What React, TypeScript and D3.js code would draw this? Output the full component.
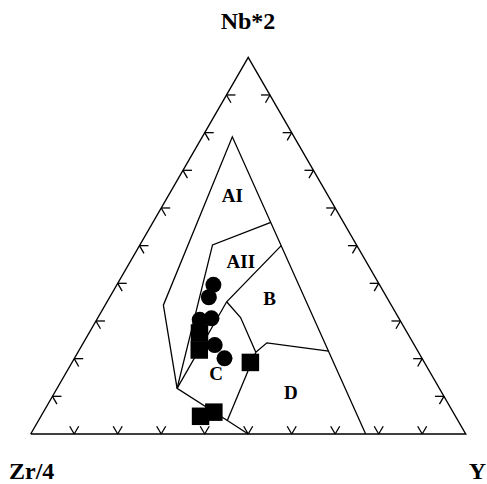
import React from 'react';
import * as d3 from 'd3';

// ternary points as [Zr/4, Nb*2, Y] in percent
const circleZr = [38.2, 40.9, 46.0, 43.1, 45.9, 45.4];
const circleNb = [39.6, 36.3, 30.3, 30.7, 23.6, 20.1];
const circleY = [22.2, 22.8, 23.7, 26.2, 30.5, 34.5];

const squareZr = [47.8, 50.1, 40.0, 58.6, 55.0];
const squareNb = [26.8, 22.3, 19.0, 4.7, 5.8];
const squareY = [25.4, 27.6, 41.0, 36.7, 39.2];

// field boundaries
const outerA = [[23, 0, 77], [14.2, 78.9, 6.9], [52.4, 34.2, 13.4], [60.3, 12.1, 27.6], [53, 3.6, 43.4], [50, 0, 50]];
const lineAI_AII = [[16.7, 56.2, 27.1], [33.1, 50.2, 16.7], [60.3, 12.1, 27.6]];
const lineAII_B = [[17.4, 50.0, 32.6], [37.4, 35.1, 27.5], [60.3, 12.1, 27.6]];
const lineB_C = [[37.4, 35.1, 27.5], [36.3, 30.9, 32.8], [37.4, 21.7, 40.9]];
const lineB_D = [[37.4, 21.7, 40.9], [33.6, 24.2, 42.2], [20.5, 22.0, 57.5]];
const lineC_D = [[37.4, 21.7, 40.9], [53, 3.6, 43.4]];
const boundaries = [outerA, lineAI_AII, lineAII_B, lineB_C, lineB_D, lineC_D];

const fieldNames = ['AI', 'AII', 'B', 'C', 'D'];
const fieldPos = [[22.8, 61.7, 15.5], [29.7, 44.0, 26.3], [28.0, 34.2, 37.8], [50.2, 14.3, 35.5], [35.6, 9.2, 55.2]];

const tickSteps = [10, 20, 30, 40, 50, 60, 70, 80, 90];

const S3 = Math.sqrt(3) / 2;

const App = () => {
  const width = 487;
  const height = 484;

  const x = d3.scaleLinear().domain([0, 1]).range([30.7, 465.7]);
  const y = d3.scaleLinear().domain([0, S3]).range([434, 57.3]);

  // [zr, nb, yy] -> screen
  const proj = (p: number[]): [number, number] => {
    const s = p[0] + p[1] + p[2];
    const b = p[1] / s;
    const c = p[2] / s;
    return [x(c + b / 2), y(b * S3)];
  };

  const line = d3.line<number[]>().x(p => proj(p)[0]).y(p => proj(p)[1]);

  const corners = [[100, 0, 0], [0, 0, 100], [0, 100, 0]];
  const tri = line(corners.concat([corners[0]])) as string;

  const tl = 9;
  const ticks: { x1: number; y1: number; x2: number; y2: number }[] = [];
  const seg = (p: [number, number], ang: number) => {
    const r = (ang * Math.PI) / 180;
    ticks.push({ x1: p[0], y1: p[1], x2: p[0] + tl * Math.cos(r), y2: p[1] - tl * Math.sin(r) });
  };
  tickSteps.forEach(t => {
    // bottom edge
    const pb = proj([100 - t, 0, t]);
    seg(pb, 60);
    seg(pb, 120);
    // left edge
    const pl = proj([100 - t, t, 0]);
    seg(pl, 0);
    seg(pl, -60);
    // right edge
    const pr = proj([0, t, 100 - t]);
    seg(pr, 180);
    seg(pr, 240);
  });

  const sq = 17.5;
  const font = "'Liberation Serif', 'Times New Roman', serif";

  return (
    <svg width={width} height={height} style={{ position: 'absolute', left: 0, top: 0 }}>
      <rect width={width} height={height} fill="#fff" />
      <path d={tri} fill="none" stroke="#000" strokeWidth={1.4} />
      {ticks.map((t, i) => (
        <line key={i} x1={t.x1} y1={t.y1} x2={t.x2} y2={t.y2} stroke="#000" strokeWidth={1.3} />
      ))}
      {boundaries.map((b, i) => (
        <path key={i} d={line(b) as string} fill="none" stroke="#000" strokeWidth={1.3} />
      ))}
      {fieldNames.map((n, i) => {
        const p = proj(fieldPos[i]);
        return (
          <text key={n} x={p[0]} y={p[1]} textAnchor="middle" fontFamily={font} fontWeight="bold" fontSize={19}>
            {n}
          </text>
        );
      })}
      {circleZr.map((z, i) => {
        const p = proj([z, circleNb[i], circleY[i]]);
        return <circle key={'c' + i} cx={p[0]} cy={p[1]} r={8} fill="#000" />;
      })}
      {squareZr.map((z, i) => {
        const p = proj([z, squareNb[i], squareY[i]]);
        return <rect key={'s' + i} x={p[0] - sq / 2} y={p[1] - sq / 2} width={sq} height={sq} fill="#000" />;
      })}
      <text x={248} y={29} textAnchor="middle" fontFamily={font} fontWeight="bold" fontSize={24}>Nb*2</text>
      <text x={9} y={479} textAnchor="start" fontFamily={font} fontWeight="bold" fontSize={24}>Zr/4</text>
      <text x={486} y={479} textAnchor="end" fontFamily={font} fontWeight="bold" fontSize={24}>Y</text>
    </svg>
  );
};

export default App;
